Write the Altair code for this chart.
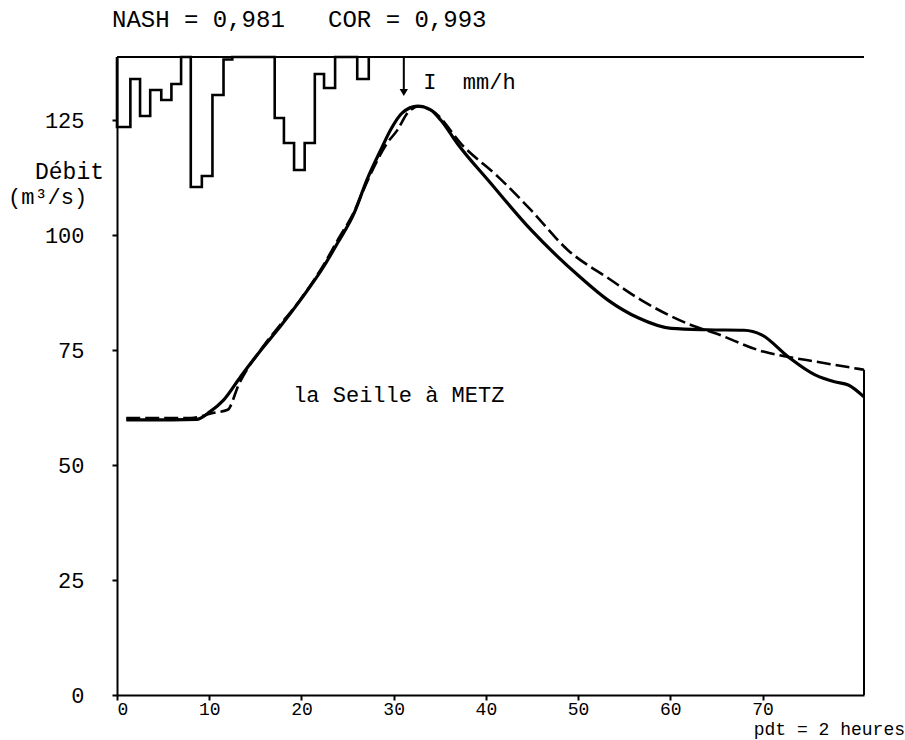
import altair as alt
import pandas as pd

# ---- data ----
# observed hydrograph (solid line), time in steps of 2 h, discharge m3/s
obs_t = [1.0, 3.0, 6.0, 8.6, 10.1, 11.55, 13.4, 15.9, 17.7, 19.9, 22.4, 23.9, 25.7, 27.1, 28.6,
         29.7, 30.9, 32.6, 34.0, 35.1, 36.9, 40.5, 44.9, 50.3, 53.2, 56.5, 60.1, 64.0, 68.0,
         69.9, 72.8, 75.7, 77.8, 79.3, 81.0]
obs_q = [59.8, 59.8, 59.8, 59.9, 61.6, 64.1, 69.2, 75.7, 80.1, 85.9, 93.1, 98.2, 104.7, 112.0, 118.5,
         123.0, 126.5, 128.0, 127.2, 125.0, 119.9, 111.3, 101.1, 90.7, 85.9, 82.0, 79.7, 79.4, 79.3,
         78.3, 73.5, 69.6, 68.1, 67.4, 64.8]

# simulated hydrograph (dashed line)
sim_t = [1.0, 8.0, 10.4, 12.0, 13.2, 15.9, 17.7, 19.9, 22.4, 23.9, 25.7, 27.1, 29.3, 30.4, 31.5,
         32.8, 34.2, 37.6, 41.3, 44.9, 48.9, 53.2, 56.8, 62.3, 64.8, 70.2, 72.8, 75.7, 81.0]
sim_q = [60.2, 60.2, 61.3, 62.0, 67.5, 75.9, 80.5, 86.0, 93.5, 98.8, 105.0, 111.5, 120.0, 122.8, 126.5,
         128.0, 127.0, 119.2, 112.7, 105.4, 96.7, 90.7, 85.9, 80.4, 78.7, 74.6, 73.5, 72.5, 70.7]

# rainfall hyetograph (step starts and intensities, hanging from the top)
rain_t = [0.0, 1.45, 2.5, 3.6, 4.8, 5.9, 6.95, 8.0, 9.2, 10.35, 11.55, 12.5, 17.1, 18.1, 19.2,
          20.35, 21.45, 22.45, 23.65, 26.05, 27.3]
rain_i = [7.0, 2.2, 5.9, 3.3, 4.3, 2.7, 0.0, 13.0, 11.9, 3.8, 0.25, 0.0, 6.1, 8.6, 11.3,
          8.6, 1.7, 3.1, 0.0, 2.2, 0.0]

peak_rain_t = [31.1]          # arrow marking the peak
x_ticks = [0, 10, 20, 30, 40, 50, 60, 70]
y_ticks = [0, 25, 50, 75, 100, 125]

T_MAX = 81
Q_MAX = 138.7
I_MAX = 63.8
W, H = 747, 638
FONT = "Liberation Mono"
NB = "\u00a0"

obs = pd.DataFrame({"t": obs_t, "q": obs_q, "k": list(range(len(obs_t)))})
sim = pd.DataFrame({"t": sim_t, "q": sim_q, "k": list(range(len(sim_t)))})
rain = pd.DataFrame({"t": [0.0] + rain_t, "r": [0.0] + rain_i,
                     "k": list(range(len(rain_t) + 1))})

xs = alt.Scale(domain=[0, T_MAX], nice=False, zero=False)
qs = alt.Scale(domain=[0, Q_MAX], nice=False, zero=False)
rs = alt.Scale(domain=[0, I_MAX], nice=False, zero=False, reverse=True)

x_axis = alt.Axis(values=x_ticks, title=None, labelFont=FONT, labelFontSize=18,
                  labelColor="black", domainColor="black", domainWidth=2,
                  tickColor="black", tickWidth=2, tickSize=5, labelPadding=0, grid=False)
y_axis = alt.Axis(values=y_ticks, title=None, labelFont=FONT, labelFontSize=22,
                  labelColor="black", domainColor="black", domainWidth=2,
                  tickColor="black", tickWidth=2, tickSize=5, labelPadding=28, grid=False)

X = alt.X("t:Q", scale=xs, axis=x_axis)

obs_line = alt.Chart(obs).mark_line(color="black", strokeWidth=3.2, interpolate="monotone").encode(
    x=X,
    y=alt.Y("q:Q", scale=qs, axis=y_axis),
    order="k:Q",
)
sim_line = alt.Chart(sim).mark_line(color="black", strokeWidth=2.6, strokeDash=[14, 5],
                                    interpolate="monotone").encode(
    x=X,
    y=alt.Y("q:Q", scale=qs, axis=y_axis),
    order="k:Q",
)
right_edge = alt.Chart(pd.DataFrame({"t": [T_MAX], "q0": [0.0], "q1": [sim_q[-1]]})).mark_rule(
    color="black", strokeWidth=2).encode(
    x=X,
    y=alt.Y("q0:Q", scale=qs, axis=y_axis),
    y2="q1:Q",
)
seille = alt.Chart(pd.DataFrame({"t": [19.1], "q": [65.2], "s": ["la Seille à METZ"]})).mark_text(
    font=FONT, fontSize=22, align="left", baseline="middle", color="black").encode(
    x=X,
    y=alt.Y("q:Q", scale=qs, axis=y_axis),
    text="s:N",
)
q_layer = alt.layer(obs_line, sim_line, right_edge, seille)

rain_line = alt.Chart(rain).mark_line(color="black", strokeWidth=2.6, interpolate="step-after").encode(
    x=X,
    y=alt.Y("r:Q", scale=rs, axis=None),
    order="k:Q",
)
top_edge = alt.Chart(pd.DataFrame({"t0": [0.0], "t1": [float(T_MAX)], "r": [0.0]})).mark_rule(
    color="black", strokeWidth=2).encode(
    x=alt.X("t0:Q", scale=xs, axis=x_axis),
    x2="t1:Q",
    y=alt.Y("r:Q", scale=rs, axis=None),
)
arrow_df = pd.DataFrame({"t": peak_rain_t, "r0": [0.0], "r1": [3.2], "rh": [3.55]})
arrow_shaft = alt.Chart(arrow_df).mark_rule(color="black", strokeWidth=2).encode(
    x=X,
    y=alt.Y("r0:Q", scale=rs, axis=None),
    y2="r1:Q",
)
arrow_head = alt.Chart(arrow_df).mark_point(shape="triangle-down", filled=True, color="black",
                                            opacity=1, size=70).encode(
    x=X,
    y=alt.Y("rh:Q", scale=rs, axis=None),
)
rain_label = alt.Chart(pd.DataFrame({"t": [33.2], "r": [2.5], "s": ["I" + NB + NB + "mm/h"]})).mark_text(
    font=FONT, fontSize=22, align="left", baseline="middle", color="black").encode(
    x=X,
    y=alt.Y("r:Q", scale=rs, axis=None),
    text="s:N",
)
r_layer = alt.layer(rain_line, top_edge, arrow_shaft, arrow_head, rain_label)


def note(txt, xpix, ypix, size, align="left"):
    return alt.Chart(pd.DataFrame({"s": [txt]})).mark_text(
        font=FONT, fontSize=size, align=align, baseline="middle", color="black").encode(
        x=alt.value(xpix), y=alt.value(ypix), text="s:N")


notes = alt.layer(
    note("NASH = 0,981" + NB * 3 + "COR = 0,993", -5, -37, 24),
    note("Débit", -82, 115, 23),
    note("(m³/s)", -109, 140, 22),
    note("pdt = 2 heures", W + 41, 673, 18, align="right"),
)

chart = alt.layer(q_layer, r_layer, notes).resolve_scale(y="independent").properties(
    width=W, height=H, autosize="none",
    padding={"left": 117, "top": 57, "right": 41, "bottom": 45},
    background="white",
).configure_view(stroke=None)

chart.save("out.html", embed_options={"renderer": "svg", "actions": False})
